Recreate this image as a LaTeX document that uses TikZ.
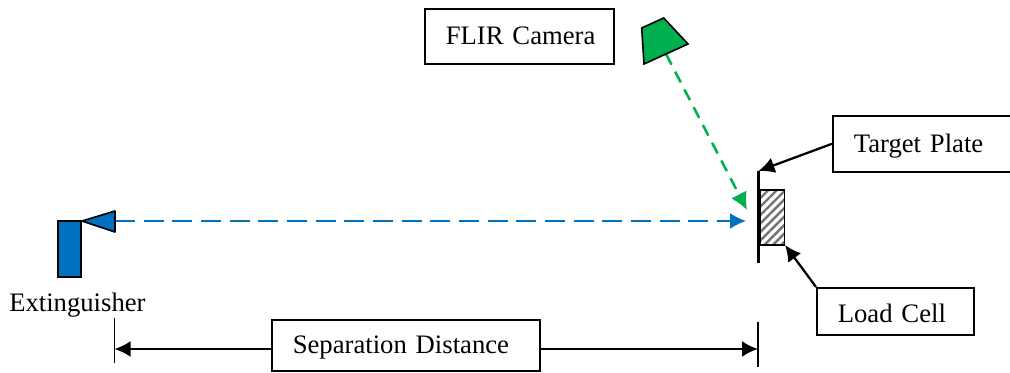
\documentclass[tikz,border=0pt]{standalone}
\usepackage{fontspec}
\setmainfont[WordSpace=0.8]{Liberation Serif}
\usetikzlibrary{arrows.meta,patterns.meta}
\definecolor{extblue}{HTML}{0070C0}
\definecolor{camgreen}{HTML}{00B050}
\tikzset{
	labelbox/.style={draw, line width=1.2pt, anchor=north west, inner xsep=15.75pt, inner ysep=0pt, align=left, text height=15pt, text depth=2pt, font=\fontsize{20}{24}\selectfont},
	leader/.style={line width=1.7pt, -{Latex[length=12pt,width=12pt]}},
	spray/.style={line width=1.5pt, extblue, dash pattern=on 15pt off 6.5pt, -{Latex[length=12pt,width=12pt]}},
	view/.style={line width=1.9pt, camgreen, dash pattern=on 9pt off 6pt, -{Latex[length=13pt,width=13pt]}},
}
\begin{document}
\begin{tikzpicture}[x=0.75pt,y=-0.75pt]
	\useasboundingbox (0,0) rectangle (1010,373);
	\coordinate (nozzle) at (115,221);
	\coordinate (spraytip) at (746,221);
	\coordinate (lens) at (666,54);
	\coordinate (viewtip) at (747,210);
	\coordinate (platetop) at (758.5,171);
	\coordinate (platebot) at (758.5,263);
	\coordinate (cellcorner) at (785,245);
	\coordinate (dimleft) at (114.5,349);
	\coordinate (dimright) at (758,349);

	\node[labelbox, text width=110.25pt, minimum height=41.25pt] (flir) at (424,8) {\mbox{FLIR Camera}};
	\node[labelbox, text width=104pt, minimum height=42pt] (target) at (832,115) {Target Plate};
	\node[labelbox, text width=86.25pt, minimum height=35.25pt, text height=19pt] (loadbox) at (816,287) {Load Cell};
	\node[labelbox, text width=169.5pt, minimum height=38.25pt] (sepdist) at (271,319) {Separation Distance};
	\node[anchor=base west, inner sep=0pt, font=\fontsize{20}{24}\selectfont] (extlabel) at (9,311.5) {Extinguisher};

	\draw[spray] (nozzle) -- (spraytip);
	\draw[view] (lens) -- (viewtip);

	\draw[fill=extblue, line width=1.2pt] (58,221) rectangle (81,277);
	\draw[fill=extblue, line width=1.2pt, line join=round] (82,221) -- (115,211) -- (115,232) -- cycle;
	\draw[fill=camgreen, line width=1.2pt] (641.7,28) -- (663.7,18) -- (688,44) -- (644,64) -- cycle;

	\draw[pattern={Lines[angle=45,distance=4.5pt,line width=1.8pt]}, pattern color=black!55, line width=1.2pt] (760,190) rectangle (784.5,245);
	\draw[line width=2.5pt] (platetop) -- (platebot);

	\draw[leader] (target.west) -- (platetop);
	\draw[leader] (loadbox.north west) -- (cellcorner);

	\draw[line width=1pt] (114.5,318) -- (114.5,363);
	\draw[line width=1pt] (758,322.5) -- (758,367);
	\draw[leader] (dimleft -| sepdist.west) -- (dimleft);
	\draw[leader] (dimright -| sepdist.east) -- (dimright);
\end{tikzpicture}
\end{document}
